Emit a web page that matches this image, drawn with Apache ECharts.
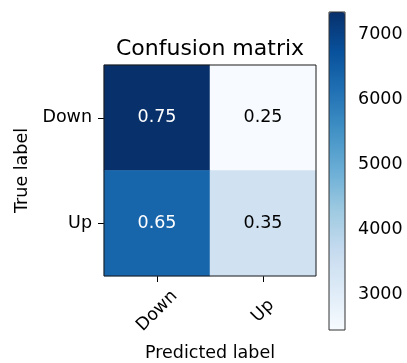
<!DOCTYPE html>
<html>
<head>
<meta charset="utf-8">
<script src="https://cdn.jsdelivr.net/npm/echarts@6/dist/echarts.min.js"></script>
<style>
  html, body { margin: 0; padding: 0; background: #fff; }
  #chart { width: 407px; height: 363px; }
</style>
</head>
<body>
<div id="chart"></div>
<script>
// Class names, shared by both axes
const classes = ['Down', 'Up'];
// Raw counts per true class (rows) and predicted class (columns)
const countsDown = [7350, 2450];
const countsUp = [6360, 3420];
// Colorbar tick values
const colorbarTicks = [3000, 4000, 5000, 6000, 7000];
// Matplotlib "Blues" colormap stops
const bluesStops = ['#f7fbff', '#deebf7', '#c6dbef', '#9ecae1', '#6baed6',
                    '#4292c6', '#2171b5', '#08519c', '#08306b'];

const FONT = 'DejaVu Sans';
const FS = 17.5;
const rows = [countsDown, countsUp];
const allCounts = rows.flat();
const cMin = Math.min(...allCounts);
const cMax = Math.max(...allCounts);
const thresh = cMax / 2;

// Heatmap items: [predictedIndex, trueIndex, count], labelled with row-normalised rate
const cells = [];
rows.forEach((row, ti) => {
  const total = row.reduce((a, b) => a + b, 0);
  row.forEach((c, pi) => {
    cells.push({
      value: [pi, ti, c],
      rate: c / total,
      label: { color: c > thresh ? '#ffffff' : '#000000' }
    });
  });
});

const chart = echarts.init(document.getElementById('chart'), null, { renderer: 'canvas' });
chart.setOption({
  animation: false,
  backgroundColor: '#ffffff',
  textStyle: { fontFamily: FONT },
  title: {
    text: 'Confusion matrix',
    left: 210,
    top: 38,
    padding: 0,
    textAlign: 'center',
    textStyle: { fontFamily: FONT, fontSize: 22, fontWeight: 'normal', color: '#000' }
  },
  grid: [
    { left: 104, top: 65, width: 212, height: 211, show: true, z: 10,
      containLabel: false, outerBoundsMode: 'none',
      borderColor: '#1a1a1a', borderWidth: 1, backgroundColor: 'transparent' },
    { left: 329, top: 12, width: 16, height: 318, show: true, z: 10,
      containLabel: false, outerBoundsMode: 'none',
      borderColor: '#333333', borderWidth: 1, backgroundColor: 'transparent' }
  ],
  xAxis: [
    {
      type: 'category', gridIndex: 0, data: classes,
      name: 'Predicted label', nameLocation: 'middle', nameGap: 68,
      nameTextStyle: { fontFamily: FONT, fontSize: FS, color: '#000' },
      axisLine: { show: false },
      axisTick: { show: true, alignWithLabel: true, length: 6, lineStyle: { color: '#000' } },
      axisLabel: { rotate: 45, align: 'center', verticalAlign: 'middle', margin: 35,
                   fontFamily: FONT, fontSize: FS, color: '#000' },
      splitLine: { show: false }
    },
    { type: 'value', gridIndex: 1, show: false, min: 0, max: 1 }
  ],
  yAxis: [
    {
      type: 'category', gridIndex: 0, data: classes, inverse: true,
      name: 'True label', nameLocation: 'middle', nameGap: 71, nameRotate: 90,
      nameTextStyle: { fontFamily: FONT, fontSize: FS, color: '#000' },
      axisLine: { show: false },
      axisTick: { show: true, alignWithLabel: true, length: 6, lineStyle: { color: '#000' } },
      axisLabel: { margin: 12, fontFamily: FONT, fontSize: FS, color: '#000' },
      splitLine: { show: false }
    },
    {
      type: 'value', gridIndex: 1, position: 'right', min: cMin, max: cMax,
      axisLine: { show: false },
      axisTick: { show: true, inside: false, length: 6, customValues: colorbarTicks,
                  lineStyle: { color: '#000' } },
      axisLabel: { show: true, margin: 13, customValues: colorbarTicks,
                   formatter: v => String(v),
                   fontFamily: FONT, fontSize: FS, color: '#000' },
      splitLine: { show: false }
    }
  ],
  visualMap: {
    type: 'continuous',
    min: cMin, max: cMax,
    seriesIndex: 0,
    dimension: 2,
    left: 329, top: 12,
    itemWidth: 16, itemHeight: 318,
    padding: 0,
    calculable: false,
    text: null,
    inRange: { color: bluesStops }
  },
  series: [{
    type: 'heatmap',
    xAxisIndex: 0, yAxisIndex: 0,
    data: cells,
    label: {
      show: true,
      fontFamily: FONT, fontSize: FS,
      formatter: p => p.data.rate.toFixed(2)
    },
    itemStyle: { borderWidth: 0 },
    emphasis: { disabled: true }
  }]
});
</script>
</body>
</html>
